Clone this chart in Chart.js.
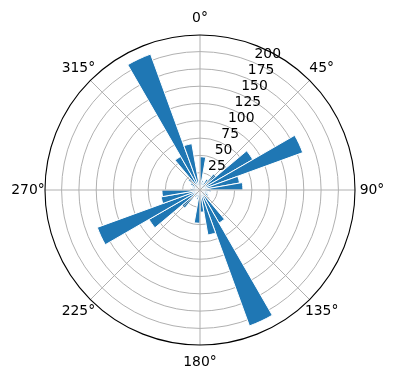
<!DOCTYPE html>
<html>
<head>
<meta charset="utf-8">
<script src="https://cdn.jsdelivr.net/npm/chart.js@4/dist/chart.umd.min.js"></script>
<style>
  html, body { margin: 0; padding: 0; background: #ffffff; }
  canvas { display: block; }
</style>
</head>
<body>
<canvas id="c" width="396" height="380"></canvas>
<script>
// Bin centres (degrees, clockwise from north), 10° bins
const binCenters = [5, 15, 25, 35, 45, 55, 65, 75, 85, 95, 105, 115, 125, 135, 145, 155, 165, 175,
                    185, 195, 205, 215, 225, 235, 245, 255, 265, 275, 285, 295, 305, 315, 325, 335, 345, 355];
// Bar heights
const counts = [48, 14, 12, 18, 30, 88, 158, 58, 62, 16, 10, 12, 14, 18, 55, 209, 66, 32,
                48, 14, 10, 12, 34, 85, 158, 57, 55, 14, 10, 12, 16, 22, 56, 209, 68, 14];
// Radial tick labels and angular tick labels
const radialTicks = [25, 50, 75, 100, 125, 150, 175, 200];
const angleTicks = [0, 45, 90, 135, 180, 225, 270, 315];
const rMax = 224;

const FONT = '13.9px "DejaVu Sans"';
const GRID = '#b0b0b0';

const overlay = {
  id: 'overlay',
  afterDraw(chart) {
    const s = chart.scales.r;
    const ctx = chart.ctx;
    const cx = s.xCenter, cy = s.yCenter;
    const R = s.getDistanceFromCenterForValue(rMax);
    ctx.save();
    // angular grid lines
    ctx.strokeStyle = GRID;
    ctx.lineWidth = 1;
    angleTicks.forEach(a => {
      const t = a * Math.PI / 180;
      ctx.beginPath();
      ctx.moveTo(cx, cy);
      ctx.lineTo(cx + R * Math.sin(t), cy - R * Math.cos(t));
      ctx.stroke();
    });
    // outer spine
    ctx.strokeStyle = '#000000';
    ctx.lineWidth = 1.1;
    ctx.beginPath();
    ctx.arc(cx, cy, R, 0, Math.PI * 2);
    ctx.stroke();
    // radial tick labels at 22.5°
    ctx.fillStyle = '#000000';
    ctx.font = FONT;
    ctx.textAlign = 'left';
    ctx.textBaseline = 'middle';
    const lt = 22.5 * Math.PI / 180;
    radialTicks.forEach(v => {
      const d = s.getDistanceFromCenterForValue(v);
      const x = cx + d * Math.sin(lt);
      const y = cy - d * Math.cos(lt);
      ctx.fillText(String(v), x + 1.5, y - 7.5);
    });
    // angle labels
    ctx.textAlign = 'center';
    angleTicks.forEach(a => {
      const t = a * Math.PI / 180;
      const d = R + 17;
      ctx.fillText(a + '°', cx + d * Math.sin(t), cy - d * Math.cos(t));
    });
    ctx.restore();
  }
};

new Chart(document.getElementById('c'), {
  type: 'polarArea',
  data: {
    labels: binCenters.map(a => a + '°'),
    datasets: [{
      data: counts,
      backgroundColor: '#1f77b4',
      borderColor: '#ffffff',
      borderWidth: 1
    }]
  },
  options: {
    responsive: false,
    animation: false,
    layout: { padding: { left: 45, right: 41, top: 35, bottom: 35 } },
    plugins: { legend: { display: false }, tooltip: { enabled: false } },
    scales: {
      r: {
        min: 0,
        max: rMax,
        startAngle: 0,
        z: 1,
        ticks: { display: false, stepSize: 25 },
        grid: {
          circular: true,
          color: c => (c.tick && c.tick.value === rMax) ? 'rgba(0,0,0,0)' : GRID,
          lineWidth: 1
        },
        angleLines: { display: false },
        pointLabels: { display: false }
      }
    }
  },
  plugins: [overlay]
});
</script>
</body>
</html>
